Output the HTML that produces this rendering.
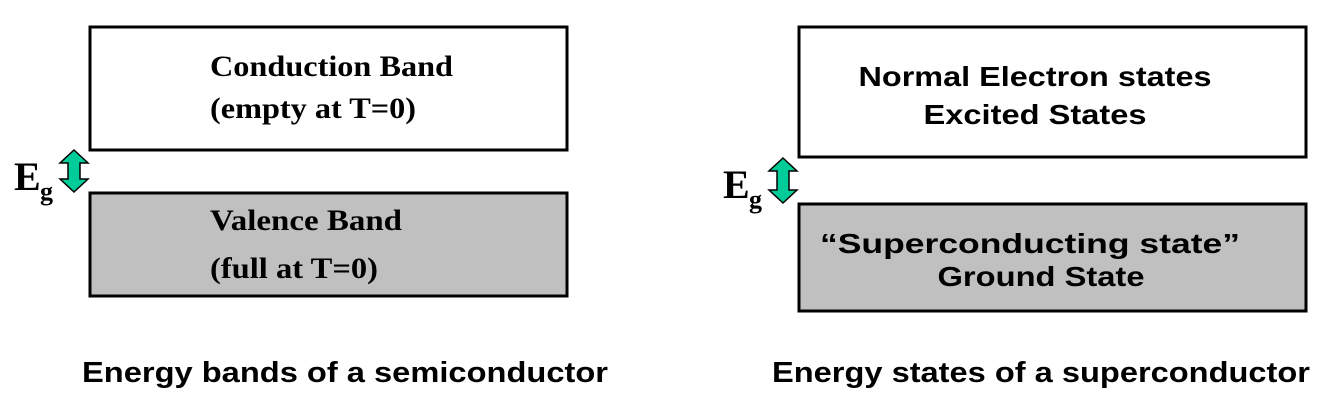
<!DOCTYPE html>
<html><head><style>html,body{margin:0;padding:0;background:#fff;width:1334px;height:409px;overflow:hidden}</style></head>
<body>
<svg width="1334" height="409" viewBox="0 0 1334 409" xmlns="http://www.w3.org/2000/svg">
<g stroke="#000" stroke-width="3">
<rect x="90" y="27" width="477" height="123" fill="#fff"/>
<rect x="90" y="193" width="477" height="103" fill="#c0c0c0"/>
<rect x="799" y="27" width="507" height="130" fill="#fff"/>
<rect x="799" y="204" width="507" height="107" fill="#c0c0c0"/>
</g>
<g fill="#00cc99" stroke="#000" stroke-width="1.5" stroke-linejoin="miter">
<polygon points="74,150 88,163 80,163 80,179 88,179 74,192 60,179 68,179 68,163 60,163"/>
<polygon points="783,158 797,171 789,171 789,190 797,190 783,203 769,190 777,190 777,171 769,171"/>
</g>
<g font-family="Liberation Serif, serif" font-weight="bold" fill="#000">
<text x="210" y="76" font-size="30" textLength="243" lengthAdjust="spacingAndGlyphs">Conduction Band</text>
<text x="210" y="118" font-size="30" textLength="206" lengthAdjust="spacingAndGlyphs">(empty at T=0)</text>
<text x="210" y="230" font-size="30" textLength="192" lengthAdjust="spacingAndGlyphs">Valence Band</text>
<text x="210" y="278" font-size="30" textLength="168" lengthAdjust="spacingAndGlyphs">(full at T=0)</text>
<text x="14" y="190" font-size="40">E</text>
<text x="40" y="200" font-size="26">g</text>
<text x="723" y="198" font-size="40">E</text>
<text x="749" y="208" font-size="26">g</text>
</g>
<g font-family="Liberation Sans, sans-serif" font-weight="bold" fill="#000" text-anchor="middle">
<text x="1035" y="86" font-size="28" textLength="353" lengthAdjust="spacingAndGlyphs">Normal Electron states</text>
<text x="1035" y="124" font-size="28" textLength="223" lengthAdjust="spacingAndGlyphs">Excited States</text>
<text x="1030" y="253" font-size="28" textLength="420" lengthAdjust="spacingAndGlyphs">“Superconducting state”</text>
<text x="1041" y="286" font-size="28" textLength="207" lengthAdjust="spacingAndGlyphs">Ground State</text>
<text x="345" y="382" font-size="29" textLength="526" lengthAdjust="spacingAndGlyphs">Energy bands of a semiconductor</text>
<text x="1041" y="382" font-size="29" textLength="538" lengthAdjust="spacingAndGlyphs">Energy states of a superconductor</text>
</g>
</svg>
</body></html>
